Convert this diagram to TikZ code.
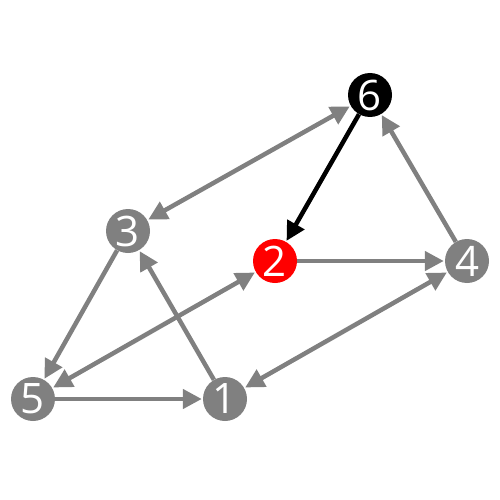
\documentclass[tikz,border=0pt]{standalone}
\usepackage{fontspec}
\setmainfont{Open Sans}
\usepackage{xcolor}
\usetikzlibrary{arrows.meta}
\definecolor{edgegray}{HTML}{808080}
\definecolor{hotred}{HTML}{FF0000}
\tikzset{
  vtx/.style={circle,fill=edgegray,draw=none,inner sep=0pt,minimum size=44pt,
    text=white,font=\fontsize{42}{42}\selectfont},
  fl/.style={-{Triangle[length=19pt,width=19pt]},draw=edgegray,line width=4.5pt,shorten >=1pt},
  fll/.style={{Triangle[length=19pt,width=19pt]}-{Triangle[length=19pt,width=19pt]},
    draw=edgegray,line width=4.5pt,shorten >=1pt,shorten <=1pt},
}
\begin{document}
\begin{tikzpicture}[x=1pt,y=-1pt]
  \useasboundingbox (0,0) rectangle (500,500);
  \node[vtx,fill=black] (v6) at (370,95) {6};
  \node[vtx] (v3) at (128,231) {3};
  \node[vtx,fill=hotred] (v2) at (275,261) {2};
  \node[vtx] (v4) at (467,261) {4};
  \node[vtx] (v5) at (33,399) {5};
  \node[vtx] (v1) at (225,399) {1};
  \draw[fll] (v3)--(v6);
  \draw[fl,draw=black] (v6)--(v2);
  \draw[fl] (v2)--(v4);
  \draw[fl] (v4)--(v6);
  \draw[fl] (v3)--(v5);
  \draw[fl] (v1)--(v3);
  \draw[fll] (v5)--(v2);
  \draw[fl] (v5)--(v1);
  \draw[fll] (v1)--(v4);
\end{tikzpicture}
\end{document}
